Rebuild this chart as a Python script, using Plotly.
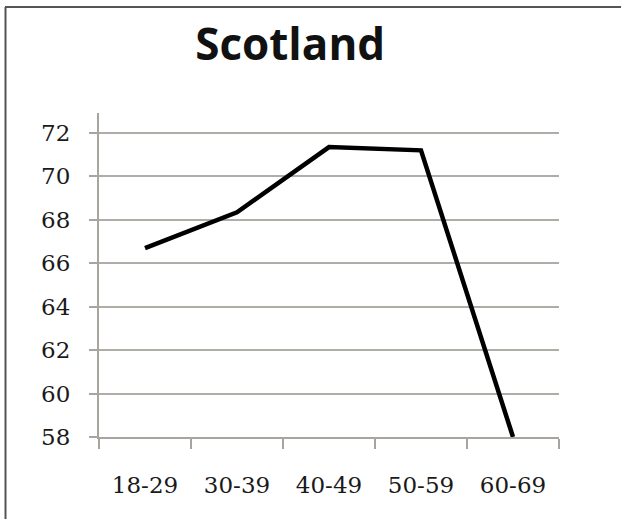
import plotly.graph_objects as go

categories = ["18-29", "30-39", "40-49", "50-59", "60-69"]
values = [66.7, 68.35, 71.35, 71.2, 58.0]
y_ticks = [58, 60, 62, 64, 66, 68, 70, 72]

fig = go.Figure()
fig.add_trace(go.Scatter(
    x=categories, y=values, mode="lines",
    line=dict(color="black", width=4.5),
    cliponaxis=True, showlegend=False,
))

fig.update_layout(
    width=624, height=519,
    margin=dict(l=99, r=65, t=113, b=82),
    paper_bgcolor="white", plot_bgcolor="white",
    title=dict(text="Scotland", x=0.465, xanchor="center", y=0.915, yanchor="middle",
               font=dict(family="Open Sans", size=44, color="#111", weight="bold")),
    xaxis=dict(
        type="category", range=[-0.5, 4.5],
        showgrid=False, showline=True, linecolor="#a8a4a0", linewidth=2,
        ticks="outside", tickson="boundaries", ticklen=10, tickwidth=2, tickcolor="#a8a4a0",
        tickfont=dict(family="DejaVu Serif", size=23, color="#1a1a1a"),
        ticklabelstandoff=26,
    ),
    yaxis=dict(
        range=[58, 72.92], tickvals=y_ticks,
        showgrid=True, gridcolor="#b0aca8", gridwidth=2,
        showline=True, linecolor="#a8a4a0", linewidth=2,
        ticks="outside", ticklen=8, tickwidth=2, tickcolor="#a8a4a0",
        tickfont=dict(family="DejaVu Serif", size=23, color="#1a1a1a"),
        ticklabelstandoff=14, zeroline=False,
    ),
    shapes=[
        dict(type="line", xref="paper", yref="paper",
             x0=(5 - 99) / 460, x1=(621 - 99) / 460, y0=(519 - 82 - 7) / 324, y1=(519 - 82 - 7) / 324,
             line=dict(color="#555", width=2)),
        dict(type="line", xref="paper", yref="paper",
             x0=(5.5 - 99) / 460, x1=(5.5 - 99) / 460, y0=(519 - 82 - 7) / 324, y1=-82 / 324,
             line=dict(color="#555", width=2)),
    ],
)

fig.write_html("out.html", config={"displayModeBar": False},
               post_script="document.body.style.margin='0';document.body.style.overflow='hidden';")
